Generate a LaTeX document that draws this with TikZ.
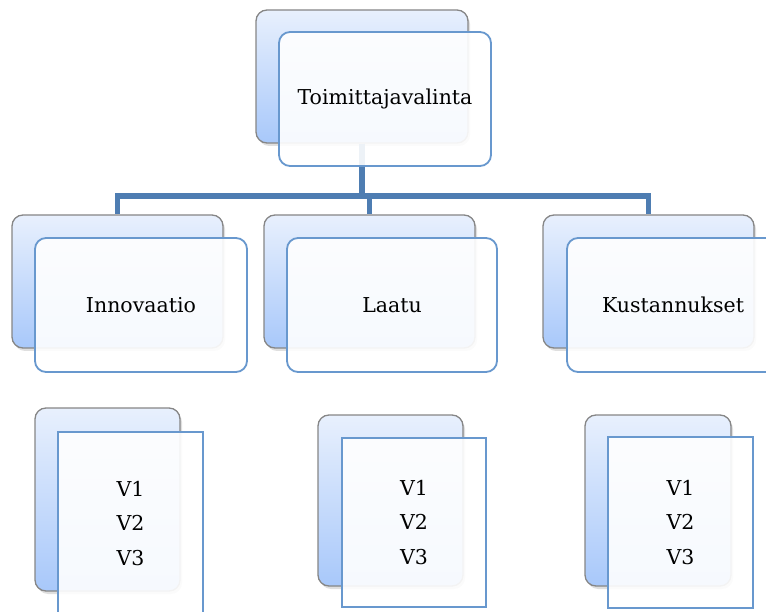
\documentclass[tikz,border=0pt]{standalone}
\usepackage{fontspec}
\setmainfont{DejaVu Serif}
\usepackage{xcolor}
\usetikzlibrary{shadows}

\definecolor{busblue}{RGB}{78,125,178}
\definecolor{edgeblue}{RGB}{104,152,206}
\definecolor{backtop}{RGB}{232,240,253}
\definecolor{backbot}{RGB}{168,200,250}

\begin{document}
\begin{tikzpicture}[x=1pt,y=-1pt,
    back/.style={draw=gray!95,line width=1.3pt,rounded corners=11pt,
      top color=backtop,bottom color=backbot,
      drop shadow={shadow xshift=2pt,shadow yshift=-3pt,opacity=0.25}},
    front/.style={draw=edgeblue,line width=1.8pt,rounded corners=11pt,
      fill=white,fill opacity=0.9,text opacity=1,
      font=\fontsize{20.5}{34.5}\selectfont,align=center},
    card/.style={front,rounded corners=0pt,line width=1.5pt},
    bus/.style={draw=busblue,line width=5.5pt}]
    \useasboundingbox (0,0) rectangle (766,612);
    \clip (0,0) rectangle (766,612);
    % back cards
    \node[back,minimum width=212pt,minimum height=133pt] (tb) at (362,76.5) {};
    \node[back,minimum width=211pt,minimum height=133pt] (ib) at (117.5,281.5) {};
    \node[back,minimum width=211pt,minimum height=133pt] (lb) at (369.5,281.5) {};
    \node[back,minimum width=211pt,minimum height=133pt] (kb) at (648.5,281.5) {};
    \node[back,minimum width=145pt,minimum height=183pt] (v1b) at (107.5,499.5) {};
    \node[back,minimum width=145pt,minimum height=171pt] (v2b) at (390.5,500.5) {};
    \node[back,minimum width=146pt,minimum height=171pt] (v3b) at (658,500.5) {};
    % bus lines
    \coordinate (bus) at (0,196);
    \draw[bus] (tb.south) -- (tb.south |- bus) -| (ib.north);
    \draw[bus] (tb.south) -- (tb.south |- bus) -| (lb.north);
    \draw[bus] (tb.south) -- (tb.south |- bus) -| (kb.north);
    % front cards
    \node[front,minimum width=212pt,minimum height=134pt] (t) at (385,99) {Toimittajavalinta};
    \node[front,minimum width=212pt,minimum height=134pt] (i) at (141,305) {Innovaatio};
    \node[front,minimum width=210pt,minimum height=134pt] (l) at (392,305) {Laatu};
    \node[front,minimum width=212pt,minimum height=134pt] (k) at (673,305) {Kustannukset};
    \node[card,minimum width=145pt,minimum height=183pt] (v1) at (130.5,523.5) {V1\\V2\\V3};
    \node[card,minimum width=144pt,minimum height=169pt] (v2) at (414,522.5) {V1\\V2\\V3};
    \node[card,minimum width=145pt,minimum height=171pt] (v3) at (680.5,522.5) {V1\\V2\\V3};
\end{tikzpicture}
\end{document}
